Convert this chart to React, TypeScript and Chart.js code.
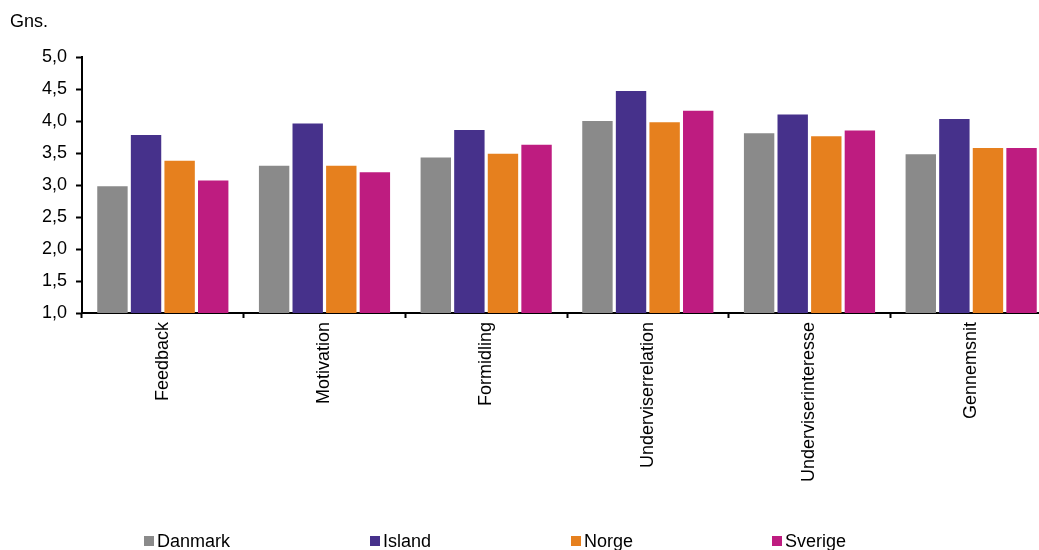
import React, { useEffect, useRef } from "react";
import { Chart, registerables } from "chart.js";

Chart.register(...registerables);

const categories = ["Feedback", "Motivation", "Formidling", "Underviserrelation", "Underviserinteresse", "Gennemsnit"];
const seriesNames = ["Danmark", "Island", "Norge", "Sverige"];
const danmark = [2.98, 3.3, 3.43, 4.0, 3.81, 3.48];
const island = [3.78, 3.96, 3.86, 4.47, 4.1, 4.03];
const norge = [3.38, 3.3, 3.49, 3.98, 3.76, 3.58];
const sverige = [3.07, 3.2, 3.63, 4.16, 3.85, 3.58];
const colors = ["#8a8a8a", "#46318b", "#e6801e", "#be1c80"];
const yTitle = "Gns.";

const FONT = "'Liberation Sans', Arial, sans-serif";

export default function App() {
  const ref = useRef<HTMLCanvasElement | null>(null);

  useEffect(() => {
    if (!ref.current) return;
    const values = [danmark, island, norge, sverige];
    const chart = new Chart(ref.current, {
      type: "bar",
      data: {
        labels: categories,
        datasets: seriesNames.map((name, i) => ({
          label: name,
          data: values[i],
          backgroundColor: colors[i],
          borderWidth: 0,
          categoryPercentage: 0.831,
          barPercentage: 0.905,
        })),
      },
      options: {
        responsive: false,
        animation: false,
        devicePixelRatio: 1,
        layout: { padding: { top: 57, right: 8, bottom: 0, left: 0 } },
        plugins: {
          legend: { display: false },
          tooltip: { enabled: false },
          title: { display: false },
        },
        scales: {
          x: {
            offset: true,
            grid: {
              display: true,
              drawOnChartArea: false,
              drawTicks: true,
              tickLength: 5,
              tickWidth: 2,
              tickColor: "#000",
              offset: true,
            },
            border: { display: true, color: "#000", width: 2 },
            ticks: {
              color: "#000",
              font: { family: FONT, size: 18 },
              maxRotation: 90,
              minRotation: 90,
              autoSkip: false,
              padding: 4,
            },
            afterFit: (scale: any) => {
              scale.height = 237;
            },
          },
          y: {
            min: 1,
            max: 5,
            grid: {
              display: true,
              drawOnChartArea: false,
              drawTicks: true,
              tickLength: 6,
              tickWidth: 2,
              tickColor: "#000",
            },
            border: { display: true, color: "#000", width: 2 },
            ticks: {
              stepSize: 0.5,
              color: "#000",
              font: { family: FONT, size: 18 },
              padding: 9,
              callback: (v: any) => Number(v).toFixed(1).replace(".", ","),
            },
            afterFit: (scale: any) => {
              scale.width = 82;
            },
          },
        },
      },
    });
    return () => chart.destroy();
  }, []);

  const legendX = [144, 370, 571, 772];

  return (
    <div
      style={{
        position: "fixed",
        left: 0,
        top: 0,
        width: 1039,
        height: 550,
        overflow: "hidden",
        background: "#fff",
        fontFamily: FONT,
      }}
    >
      <canvas ref={ref} width={1060} height={550} style={{ position: "absolute", left: 0, top: 0 }} />
      <div style={{ position: "absolute", left: 10, top: 11, fontSize: 18, lineHeight: "20px", color: "#000" }}>{yTitle}</div>
      {seriesNames.map((name, i) => (
        <div
          key={name}
          style={{
            position: "absolute",
            left: legendX[i],
            top: 531,
            height: 20,
            display: "flex",
            alignItems: "center",
            fontSize: 18,
            color: "#000",
            whiteSpace: "nowrap",
          }}
        >
          <span style={{ display: "inline-block", width: 10, height: 10, background: colors[i], marginRight: 3 }} />
          <span>{name}</span>
        </div>
      ))}
    </div>
  );
}
